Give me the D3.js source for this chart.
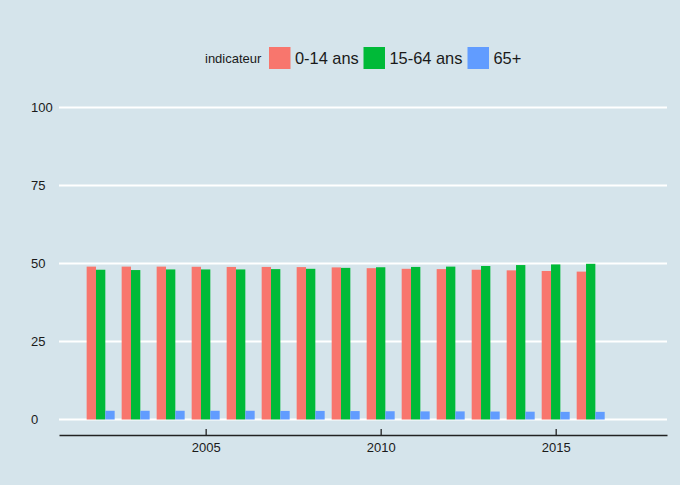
<!DOCTYPE html>
<html>
<head>
<meta charset="utf-8">
<script src="https://cdn.jsdelivr.net/npm/d3@7"></script>
<style>
  body { margin: 0; background: #d5e4eb; }
  text { font-family: "Liberation Sans", Arial, Helvetica, sans-serif; fill: #1a1a1a; }
</style>
</head>
<body>
<div id="chart"></div>
<script>
const svg_width = 680;
const svg_height = 485;

// data
const years = [2002, 2003, 2004, 2005, 2006, 2007, 2008, 2009, 2010, 2011, 2012, 2013, 2014, 2015, 2016];
const indicateurs = ["0-14 ans", "15-64 ans", "65+"];
const jeunes = [49.0, 49.0, 49.0, 48.95, 48.9, 48.9, 48.85, 48.75, 48.5, 48.3, 48.2, 48.0, 47.8, 47.6, 47.4];
const actifs = [48.0, 47.9, 48.1, 48.1, 48.1, 48.2, 48.3, 48.6, 48.8, 48.9, 49.0, 49.2, 49.5, 49.7, 49.9];
const seniors = [2.8, 2.8, 2.8, 2.8, 2.8, 2.75, 2.75, 2.7, 2.65, 2.6, 2.6, 2.55, 2.5, 2.45, 2.45];
const yTicks = [0, 25, 50, 75, 100];
const xTicks = [2005, 2010, 2015];
const colors = ["#F8766D", "#00BA38", "#619CFF"];

const series = [jeunes, actifs, seniors];

const svg = d3.select("#chart")
  .append("svg")
    .attr("width", svg_width)
    .attr("height", svg_height)

svg.append("rect")
    .attr("width", svg_width)
    .attr("height", svg_height)
    .attr("fill", "#d5e4eb")

const left = 59, right = 667;

const x = d3.scaleLinear()
    .domain([2000.81, 2018.18])
    .range([left, right])

const y = d3.scaleLinear()
    .domain([0, 100])
    .range([419.5, 107.5])

const groupWidth = x(2000.81 + 0.8) - x(2000.81);
const sub = d3.scaleBand()
    .domain(indicateurs)
    .range([-groupWidth / 2, groupWidth / 2])

// horizontal grid + y labels
svg.append("g")
  .selectAll("line")
  .data(yTicks)
  .join("line")
    .attr("x1", left)
    .attr("x2", right)
    .attr("y1", d => y(d))
    .attr("y2", d => y(d))
    .attr("stroke", "#ffffff")
    .attr("stroke-width", 2)

svg.append("g")
  .selectAll("text")
  .data(yTicks)
  .join("text")
    .attr("x", 31)
    .attr("y", d => y(d))
    .attr("dy", "0.35em")
    .attr("font-size", 13)
    .text(d => d)

// bars
for (let s = 0; s < series.length; s++) {
    svg.append("g")
      .selectAll("rect")
      .data(years)
      .join("rect")
        .attr("x", (d, i) => x(d) + sub(indicateurs[s]))
        .attr("y", (d, i) => y(series[s][i]))
        .attr("width", sub.bandwidth())
        .attr("height", (d, i) => y(0) - y(series[s][i]))
        .attr("fill", colors[s])
}

// x axis
const xAxis = svg.append("g")
    .attr("transform", "translate(0,435)")
    .call(d3.axisBottom(x).tickValues(xTicks).tickFormat(d3.format("d")).tickSizeInner(-6).tickSizeOuter(0))

xAxis.select(".domain").attr("stroke", "#222").attr("stroke-width", 1.3)
xAxis.selectAll(".tick line").attr("stroke", "#222").attr("stroke-width", 1.3)
xAxis.selectAll(".tick text")
    .attr("y", 8)
    .attr("dy", "0.71em")
    .attr("font-size", 13)
    .attr("font-family", "Liberation Sans, Arial, sans-serif")
    .attr("fill", "#1a1a1a")

// legend
const legend = svg.append("g")

legend.append("text")
    .attr("x", 205)
    .attr("y", 58)
    .attr("dy", "0.35em")
    .attr("font-size", 13)
    .text("indicateur")

const legendX = [269, 363.5, 467.5];
for (let i = 0; i < indicateurs.length; i++) {
    legend.append("rect")
        .attr("x", legendX[i])
        .attr("y", 47)
        .attr("width", 21.5)
        .attr("height", 22)
        .attr("fill", colors[i])
    legend.append("text")
        .attr("x", legendX[i] + 26)
        .attr("y", 58)
        .attr("dy", "0.35em")
        .attr("font-size", 16.4)
        .text(indicateurs[i])
}
</script>
</body>
</html>
